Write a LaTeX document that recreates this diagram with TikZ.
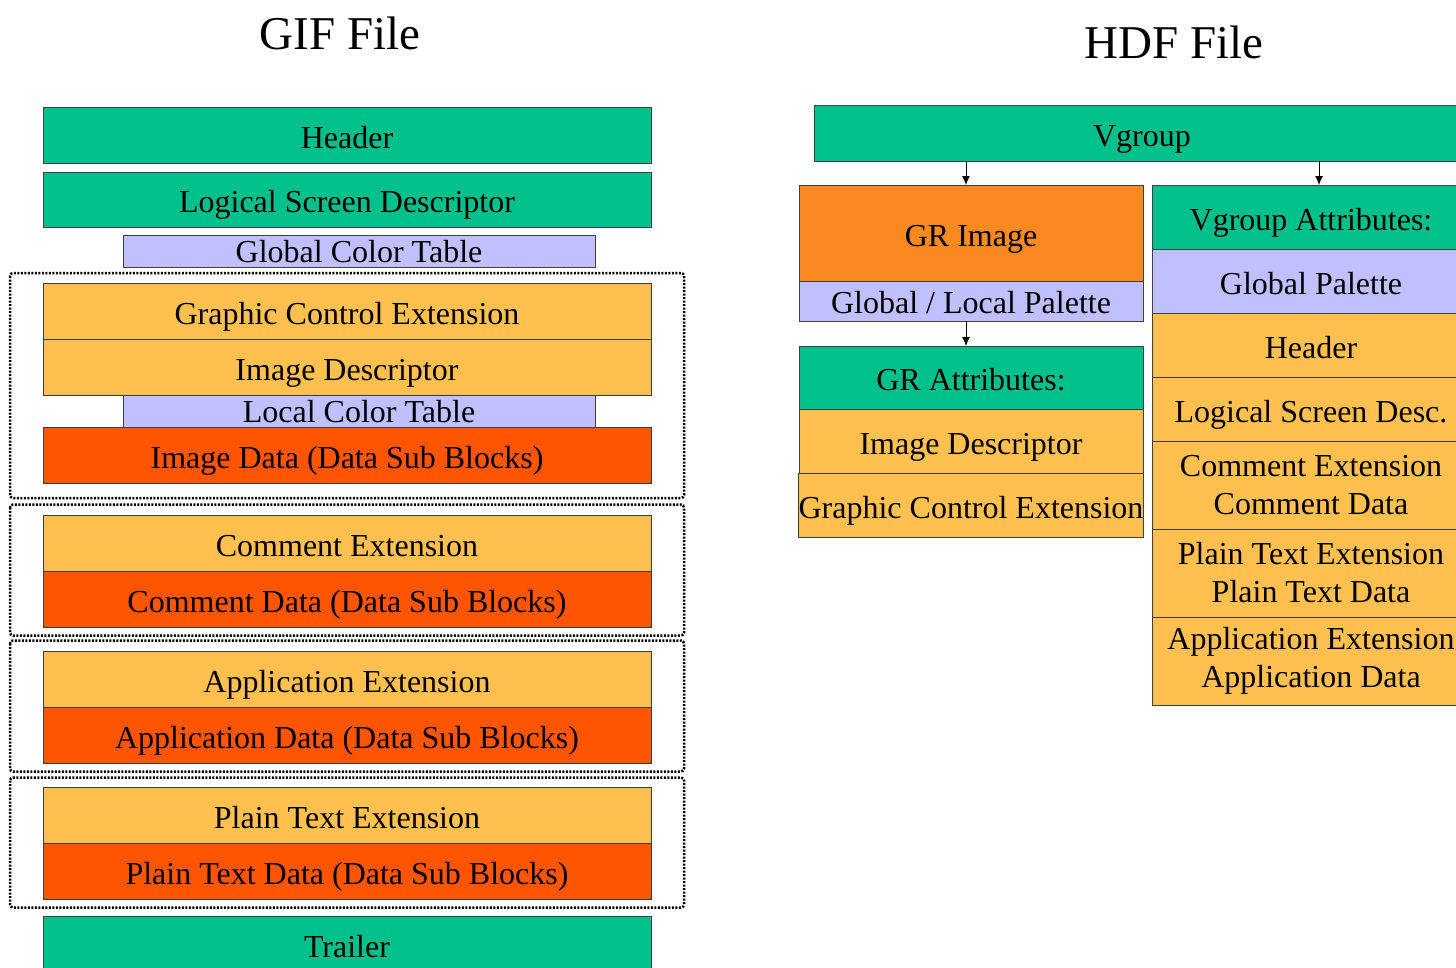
\documentclass[tikz,border=0pt]{standalone}
\usepackage{fontspec}
\setmainfont{Liberation Serif}
\usepackage{xcolor}
\usepackage{tikz}
\usetikzlibrary{positioning,arrows.meta,calc}
\definecolor{gifgreen}{RGB}{0,192,140}
\definecolor{giflav}{RGB}{192,192,255}
\definecolor{gifyellow}{RGB}{255,192,80}
\definecolor{gifred}{RGB}{255,85,0}
\definecolor{grorange}{RGB}{250,138,32}
\newcommand{\boxfont}{\fontsize{32}{38}\selectfont}
\newcommand{\titlefont}{\fontsize{47}{56}\selectfont}

\begin{document}
\begin{tikzpicture}[
    x=1pt, y=-1pt,
    cell/.style={draw=black!75, line width=1pt, minimum height=56pt, minimum width=608pt, inner sep=0pt, outer sep=0pt, align=center, font=\boxfont},
    blk/.style={cell, text height=26pt, text depth=0pt},
    pal/.style={cell, fill=giflav, minimum height=32pt, minimum width=472pt, text height=22pt, text depth=0pt},
    lbox/.style={blk, minimum width=344pt, minimum height=64pt},
    rbox/.style={blk, minimum width=318pt, minimum height=64pt},
    rbox2/.style={cell, minimum width=318pt, minimum height=88pt, fill=gifyellow},
    grp/.style={draw=black, line width=2.5pt, dash pattern=on 2pt off 1.5pt, rounded corners=3pt},
    arr/.style={-{Latex[length=9pt,width=8pt]}, line width=1pt},
    ttl/.style={font=\titlefont, inner sep=0pt}
]
\path[use as bounding box, clip] (0,0) rectangle (1456,967);

% Titles
\node[ttl] (giftitle) at (340,33) {GIF File};
\node[ttl] (hdftitle) at (1174,42) {HDF File};

% GIF file
\node[blk, fill=gifgreen] (hdr) at (347,135) {Header};
\node[blk, fill=gifgreen, below=9pt of hdr, minimum height=55pt] (lsd) {Logical Screen Descriptor};
\node[pal, below=8pt of lsd, xshift=12pt] (gct) {Global Color Table};

\node[blk, fill=gifyellow] (gce) at (347,311) {Graphic Control Extension};
\node[blk, fill=gifyellow, below=0pt of gce] (imgd) {Image Descriptor};
\node[pal, below=0pt of imgd, xshift=12pt] (lct) {Local Color Table};
\node[blk, fill=gifred, below=0pt of lct, xshift=-12pt] (imgdata) {Image Data (Data Sub Blocks)};

\node[blk, fill=gifyellow] (cext) at (347,543.5) {Comment Extension};
\node[blk, fill=gifred, below=0pt of cext] (cdata) {Comment Data (Data Sub Blocks)};

\node[blk, fill=gifyellow] (aext) at (347,679.5) {Application Extension};
\node[blk, fill=gifred, below=0pt of aext] (adata) {Application Data (Data Sub Blocks)};

\node[blk, fill=gifyellow] (pext) at (347,815.5) {Plain Text Extension};
\node[blk, fill=gifred, below=0pt of pext] (pdata) {Plain Text Data (Data Sub Blocks)};

\node[blk, fill=gifgreen, below=17pt of pdata] (trailer) {Trailer};

% Dotted groups
\draw[grp] ($(gce.north west)+(-33,-10)$) rectangle ($(imgdata.south east)+(33,15)$);
\draw[grp] ($(cext.north west)+(-33,-11)$) rectangle ($(cdata.south east)+(33,8)$);
\draw[grp] ($(aext.north west)+(-33,-11)$) rectangle ($(adata.south east)+(33,8)$);
\draw[grp] ($(pext.north west)+(-33,-10)$) rectangle ($(pdata.south east)+(33,8)$);

% HDF file
\node[blk, fill=gifgreen, minimum width=656pt] (vg) at (1142,133) {Vgroup};

\node[lbox, fill=grorange, minimum height=96pt] (gri) at (971,233) {GR Image};
\node[lbox, fill=giflav, minimum height=40pt, below=0pt of gri, text height=24pt] (glp) {Global / Local Palette};
\node[lbox, fill=gifgreen, minimum height=63pt, below=25pt of glp] (gra) {GR Attributes:};
\node[lbox, fill=gifyellow, below=0pt of gra] (rimgd) {Image Descriptor};
\node[lbox, fill=gifyellow, below=0pt of rimgd] (rgce) {Graphic Control Extension};

\node[rbox, fill=gifgreen] (vga) at (1311,217) {Vgroup Attributes:};
\node[rbox, fill=giflav, below=0pt of vga] (gpal) {Global Palette};
\node[rbox, fill=gifyellow, below=0pt of gpal] (rhdr) {Header};
\node[rbox, fill=gifyellow, below=0pt of rhdr] (rlsd) {Logical Screen Desc.};
\node[rbox2, below=0pt of rlsd] (rcom) {Comment Extension\\Comment Data};
\node[rbox2, below=0pt of rcom] (rpt) {Plain Text Extension\\Plain Text Data};
\node[rbox2, below=0pt of rpt] (rapp) {Application Extension\\Application Data};

% Arrows
\coordinate (griin) at ([xshift=-5pt]gri.north);
\coordinate (vgain) at ([xshift=8pt]vga.north);
\coordinate (grain) at ([xshift=-5pt]gra.north);
\draw[arr] (vg.south -| griin) -- (griin);
\draw[arr] (vg.south -| vgain) -- (vgain);
\draw[arr] (glp.south -| grain) -- (grain);
\end{tikzpicture}
\end{document}
